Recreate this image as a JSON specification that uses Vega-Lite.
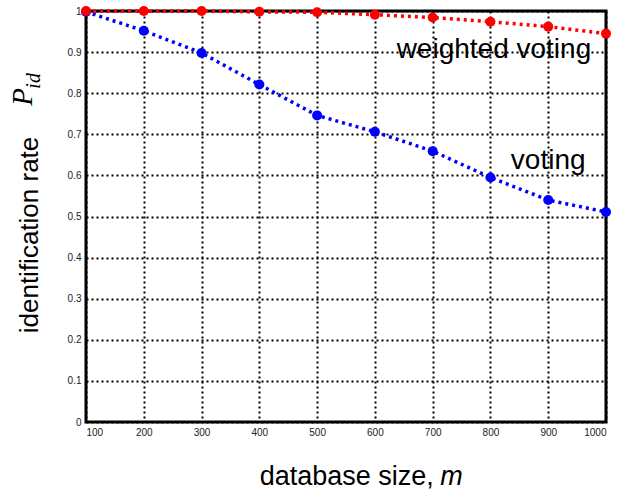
{
  "$schema": "https://vega.github.io/schema/vega-lite/v6.json",
  "width": 520,
  "height": 411,
  "autosize": "none",
  "padding": {"left": 86, "top": 11, "right": 28, "bottom": 69},
  "background": "white",
  "config": {
    "view": {"stroke": "black", "strokeWidth": 3},
    "font": "Liberation Sans"
  },
  "datasets": {
    "curves": [
      {"m": 100, "rate": 0.998, "series": "voting"},
      {"m": 200, "rate": 0.952, "series": "voting"},
      {"m": 300, "rate": 0.898, "series": "voting"},
      {"m": 400, "rate": 0.821, "series": "voting"},
      {"m": 500, "rate": 0.746, "series": "voting"},
      {"m": 600, "rate": 0.706, "series": "voting"},
      {"m": 700, "rate": 0.659, "series": "voting"},
      {"m": 800, "rate": 0.595, "series": "voting"},
      {"m": 900, "rate": 0.54, "series": "voting"},
      {"m": 1000, "rate": 0.511, "series": "voting"},
      {"m": 100, "rate": 1.0, "series": "weighted voting"},
      {"m": 200, "rate": 1.0, "series": "weighted voting"},
      {"m": 300, "rate": 1.0, "series": "weighted voting"},
      {"m": 400, "rate": 0.998, "series": "weighted voting"},
      {"m": 500, "rate": 0.997, "series": "weighted voting"},
      {"m": 600, "rate": 0.991, "series": "weighted voting"},
      {"m": 700, "rate": 0.984, "series": "weighted voting"},
      {"m": 800, "rate": 0.974, "series": "weighted voting"},
      {"m": 900, "rate": 0.962, "series": "weighted voting"},
      {"m": 1000, "rate": 0.945, "series": "weighted voting"}
    ],
    "labels": [
      {"m": 806, "rate": 0.905, "text": "weighted voting"},
      {"m": 900, "rate": 0.635, "text": "voting"}
    ],
    "xtitle": [{"m": 702, "rate": -0.153, "text": "database size,"}],
    "xtitlem": [{"m": 713, "rate": -0.153, "text": "m"}],
    "ytitle": [{"m": 3, "rate": 0.455, "text": "identification rate"}],
    "ytitleP": [{"m": -9, "rate": 0.791, "text": "P"}],
    "ytitleSub": [{"m": 10, "rate": 0.83, "text": "id"}]
  },
  "layer": [
    {
      "data": {"name": "curves"},
      "mark": {"type": "line", "strokeDash": [3, 4], "strokeWidth": 3.5},
      "encoding": {
        "x": {
          "field": "m", "type": "quantitative",
          "scale": {"domain": [100, 1000], "nice": false, "zero": false},
          "axis": {
            "values": [100, 200, 300, 400, 500, 600, 700, 800, 900, 1000],
            "format": "d",
            "title": null, "domain": false, "ticks": false,
            "grid": true, "gridColor": "black", "gridDash": [2, 3], "gridWidth": 2, "gridOpacity": 1,
            "labelFontSize": 10, "labelColor": "#222", "labelPadding": 5, "labelFont": "Liberation Sans"
          }
        },
        "y": {
          "field": "rate", "type": "quantitative",
          "scale": {"domain": [0, 1], "nice": false},
          "axis": {
            "values": [0, 0.1, 0.2, 0.3, 0.4, 0.5, 0.6, 0.7, 0.8, 0.9, 1],
            "format": "~g",
            "title": null, "domain": false, "ticks": false,
            "grid": true, "gridColor": "black", "gridDash": [2, 3], "gridWidth": 2, "gridOpacity": 1,
            "labelFontSize": 10, "labelColor": "#222", "labelPadding": 5, "labelFont": "Liberation Sans"
          }
        },
        "color": {
          "field": "series", "type": "nominal",
          "scale": {"domain": ["weighted voting", "voting"], "range": ["#ff0000", "#0000ff"]},
          "legend": null
        },
        "detail": {"field": "series"}
      }
    },
    {
      "data": {"name": "curves"},
      "mark": {"type": "point", "filled": true, "size": 100, "opacity": 1},
      "encoding": {
        "x": {"field": "m", "type": "quantitative"},
        "y": {"field": "rate", "type": "quantitative"},
        "color": {"field": "series", "type": "nominal", "legend": null}
      }
    },
    {
      "data": {"name": "labels"},
      "mark": {"type": "text", "fontSize": 28, "font": "Liberation Sans", "align": "center", "baseline": "middle", "color": "black"},
      "encoding": {
        "x": {"field": "m", "type": "quantitative"},
        "y": {"field": "rate", "type": "quantitative"},
        "text": {"field": "text"}
      }
    },
    {
      "data": {"name": "xtitle"},
      "mark": {"type": "text", "fontSize": 27, "font": "Liberation Sans", "align": "right", "baseline": "alphabetic", "color": "black"},
      "encoding": {
        "x": {"field": "m", "type": "quantitative"},
        "y": {"field": "rate", "type": "quantitative"},
        "text": {"field": "text"}
      }
    },
    {
      "data": {"name": "xtitlem"},
      "mark": {"type": "text", "fontSize": 27, "font": "Liberation Sans", "fontStyle": "italic", "align": "left", "baseline": "alphabetic", "color": "black"},
      "encoding": {
        "x": {"field": "m", "type": "quantitative"},
        "y": {"field": "rate", "type": "quantitative"},
        "text": {"field": "text"}
      }
    },
    {
      "data": {"name": "ytitle"},
      "mark": {"type": "text", "fontSize": 26, "font": "Liberation Sans", "angle": 270, "align": "center", "baseline": "middle", "color": "black"},
      "encoding": {
        "x": {"field": "m", "type": "quantitative"},
        "y": {"field": "rate", "type": "quantitative"},
        "text": {"field": "text"}
      }
    },
    {
      "data": {"name": "ytitleP"},
      "mark": {"type": "text", "fontSize": 29, "font": "Liberation Serif", "fontStyle": "italic", "angle": 270, "align": "center", "baseline": "middle", "color": "black"},
      "encoding": {
        "x": {"field": "m", "type": "quantitative"},
        "y": {"field": "rate", "type": "quantitative"},
        "text": {"field": "text"}
      }
    },
    {
      "data": {"name": "ytitleSub"},
      "mark": {"type": "text", "fontSize": 20, "font": "Liberation Serif", "fontStyle": "italic", "angle": 270, "align": "center", "baseline": "middle", "color": "black"},
      "encoding": {
        "x": {"field": "m", "type": "quantitative"},
        "y": {"field": "rate", "type": "quantitative"},
        "text": {"field": "text"}
      }
    }
  ]
}
